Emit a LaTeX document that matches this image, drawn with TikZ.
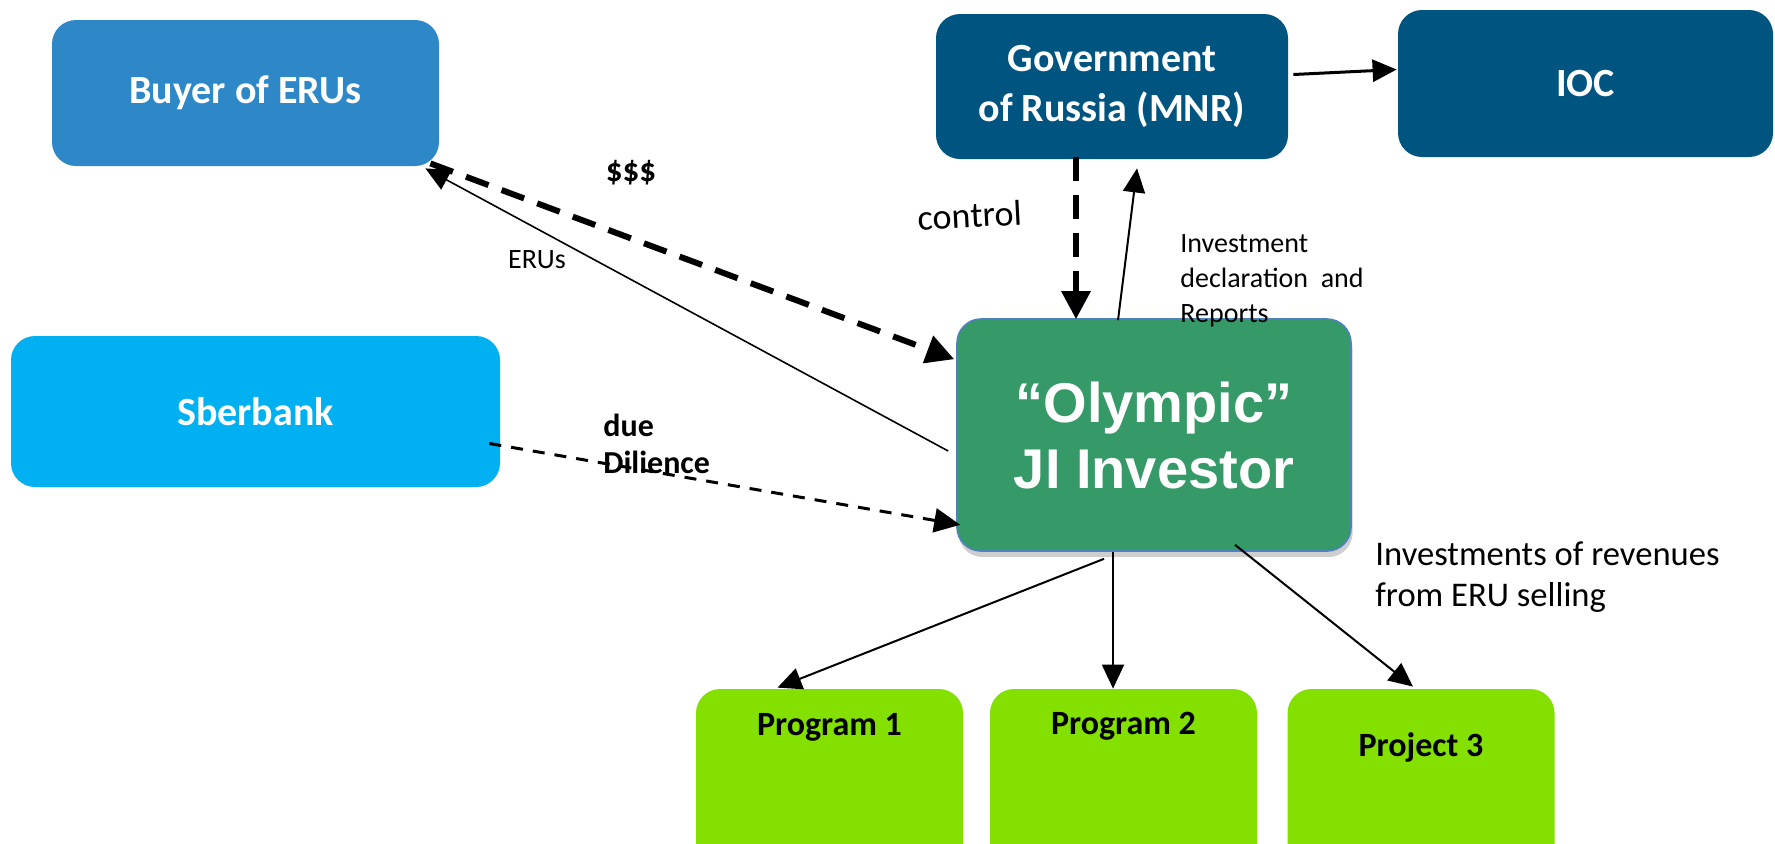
\documentclass[tikz,border=0pt]{standalone}
\usepackage{fontspec}
\setmainfont{Carlito}
\newfontfamily\arialfont{Liberation Sans}
\usepackage{tikz}
\usetikzlibrary{arrows.meta,calc,shadows}
\definecolor{buyerblue}{RGB}{46,136,200}
\definecolor{sberblue}{RGB}{0,176,240}
\definecolor{govblue}{RGB}{0,84,128}
\definecolor{olygreen}{RGB}{54,154,104}
\definecolor{olyborder}{RGB}{79,129,189}
\definecolor{progreen}{RGB}{132,224,0}

\begin{document}
\begin{tikzpicture}[x=0.5pt,y=-0.5pt,
	box/.style = {rounded corners=12pt, inner sep=0pt, text=white, align=center, font=\bfseries\fontsize{20}{25}\selectfont},
	greenbox/.style = {rounded corners=12pt, fill=progreen, minimum width=133.5pt, minimum height=90.5pt},
	lbl/.style = {font=\fontsize{14}{17.5}\selectfont, align=left, inner sep=0pt},
	solidarrow/.style = {line width=1pt, -{Triangle[length=12pt,width=11pt]}},
	bigdash/.style = {line width=3pt, dash pattern=on 12pt off 7pt, -{Triangle[length=14pt,width=14pt]}},
	smalldash/.style = {line width=1.5pt, dash pattern=on 6pt off 5pt, -{Triangle[length=13pt,width=12pt]}}
]
	\useasboundingbox (0,0) rectangle (1775,843);

	% boxes
	\node [box, fill=buyerblue, minimum width=193.5pt, minimum height=73pt] (buyer) at (245.5,93) {Buyer of ERUs};
	\node [box, fill=sberblue, minimum width=244.5pt, minimum height=75.5pt] (sber) at (255.5,411.5) {Sberbank};
	\node [box, fill=govblue, minimum width=176pt, minimum height=72.5pt] (gov) at (1112,86.5) {Government\\of Russia (MNR)};
	\node [box, fill=govblue, minimum width=187.5pt, minimum height=73.5pt] (ioc) at (1585.5,83.5) {IOC};
	\node [box, fill=olygreen, draw=olyborder, line width=0.8pt,
		drop shadow={shadow xshift=0.8pt, shadow yshift=-3pt, fill=black!38},
		minimum width=197pt, minimum height=116pt,
		font=\arialfont\bfseries\fontsize{28}{33}\selectfont] (oly) at (1154,435) {“Olympic”\\JI Investor};
	\foreach \name/\x/\dy/\txt in {prog1/829.5/39/Program 1, prog2/1123.5/38/Program 2, proj3/1421/59/Project 3}{
		\node [greenbox] (\name) at (\x,779.5) {};
		\node [font=\bfseries\fontsize{17}{20}\selectfont] (\name txt) at ($(\name.north)+(0,\dy)$) {\txt};
	}

	% connectors
	\draw [bigdash] ($(buyer.south east)+(-9,-3)$) -- ($(oly.north west)+(-2,41)$);
	\draw [line width=0.8pt, -{Triangle[length=12pt,width=11pt]}] ($(oly.west)+(-8,16)$) -- ($(buyer.south east)+(-14,2)$);
	\draw [smalldash] ($(sber.east)+(-11,32)$) -- ($(oly.south west)+(4,-27)$);
	\draw [bigdash] ($(gov.south)+(-36,-2)$) -- ($(oly.north)+(-78,1)$);
	\draw [solidarrow] ($(oly.north)+(-36,2)$) -- ($(gov.south)+(25,9)$);
	\draw [line width=1.5pt, -{Triangle[length=12pt,width=11pt]}] ($(gov.east)+(5,-12)$) -- ($(ioc.west)+(-1,-14)$);
	\draw [solidarrow] ($(oly.south)+(-50,7)$) -- ($(prog1.north)+(-52,-1)$);
	\draw [solidarrow] ($(oly.south)+(-41,0)$) -- ($(prog2.north)+(-10.5,0)$);
	\draw [solidarrow] ($(oly.south)+(81,-7)$) -- ($(proj3.north)+(-8,-2)$);

	% labels
	\node [font=\bfseries\fontsize{16.5}{20}\selectfont] (money) at (631,173) {\$\$\$};
	\node [lbl] (erus) at (537,260) {ERUs};
	\node [font=\fontsize{18}{22}\selectfont, rotate=3] (ctrl) at (970,215) {control};
	\node [lbl, anchor=west] (invdecl) at (1180,281) {Investment\\declaration\ \ and\\Reports};
	\node [font=\fontsize{17.3}{20.5}\selectfont, align=left, anchor=west, inner sep=0pt] (invrev) at (1375,577) {Investments of revenues\\from ERU selling};
	\node [font=\bfseries\fontsize{16}{18.5}\selectfont, align=left, anchor=west, inner sep=0pt] (dd) at (603,444) {due\\Dilience};
\end{tikzpicture}
\end{document}
